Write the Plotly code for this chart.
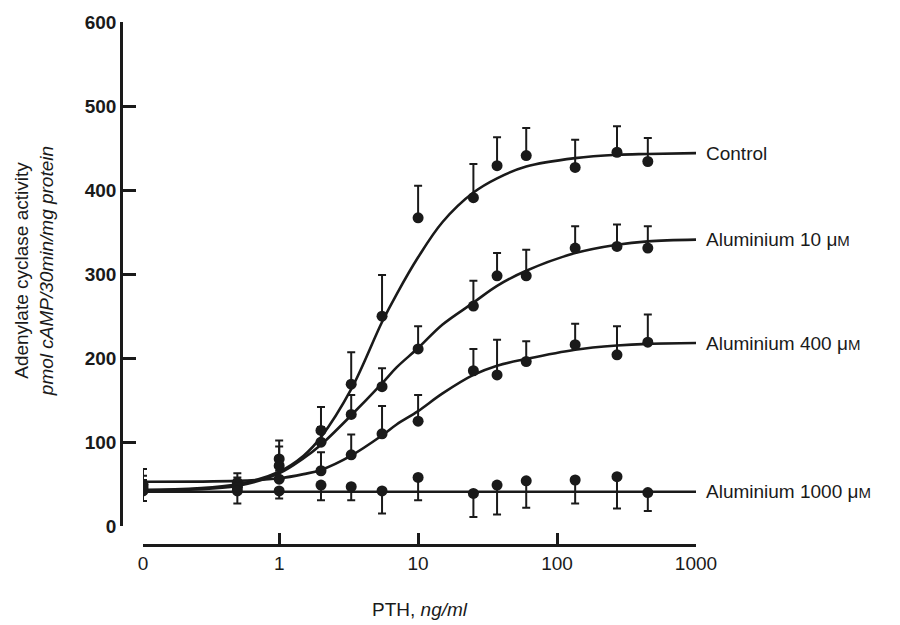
import math
import plotly.graph_objects as go

# ---- data ----
doses = [0, 0.5, 1, 2, 3.3, 5.5, 10, 25, 37, 60, 135, 270, 450]

control = [50, 52, 80, 114, 169, 250, 367, 391, 429, 441, 427, 445, 434]
control_hi = [68, 63, 102, 142, 207, 299, 405, 431, 463, 474, 460, 476, 462]

al10 = [47, 48, 72, 100, 133, 166, 211, 262, 298, 298, 331, 333, 331]
al10_hi = [60, 58, 95, 118, 156, 188, 238, 292, 325, 329, 357, 359, 357]

al400 = [44, 46, 56, 66, 85, 110, 125, 185, 180, 196, 216, 204, 219]
al400_hi = [55, 55, 66, 88, 109, 143, 156, 211, 222, 220, 241, 238, 252]

al1000 = [42, 42, 42, 49, 47, 42, 58, 39, 49, 54, 55, 59, 40]
al1000_lo = [30, 27, 33, 31, 31, 15, 31, 11, 14, 22, 27, 21, 18]

# fitted curves, read at these doses
fit_doses = [0, 0.5, 1, 1.5, 2, 3.3, 5.5, 7, 10, 15, 25, 37, 60, 135, 270, 450, 1000]
control_fit = [43, 50, 65, 84, 106, 163, 243, 276, 320, 362, 397, 414, 428, 438, 442, 443, 444]
al10_fit = [43, 48, 63, 81, 97, 132, 170, 189, 212, 240, 266, 286, 304, 325, 335, 339, 341]
al400_fit = [53, 54, 57, 62, 67, 84, 108, 121, 137, 158, 180, 191, 199, 210, 215, 217, 218]
al1000_fit = [41] * 17

curve_labels = ["Control", "Aluminium 10 μM", "Aluminium 400 μM", "Aluminium 1000 μM"]
label_levels = [443, 341, 217, 41]

tick_doses = [0, 1, 10, 100, 1000]
tick_text = ["0", "1", "10", "100", "1000"]
ZERO_POS = -0.98  # where the zero dose sits on the broken log axis


def pos(d):
    return math.log10(d) if d > 0 else ZERO_POS


def xs(ds):
    return [pos(d) for d in ds]


FONT = "Liberation Sans, Arial, Helvetica, sans-serif"
BLACK = "#1a1a1a"

fig = go.Figure()

# fitted lines
for fit in [control_fit, al10_fit, al400_fit, al1000_fit]:
    fig.add_trace(go.Scatter(
        x=xs(fit_doses), y=fit, mode="lines",
        line=dict(color=BLACK, width=2.6, shape="spline", smoothing=1.0),
        hoverinfo="skip", showlegend=False))

# points with one-sided error bars
for vals, hi in [(control, control_hi), (al10, al10_hi), (al400, al400_hi)]:
    fig.add_trace(go.Scatter(
        x=xs(doses), y=vals, mode="markers",
        marker=dict(color=BLACK, size=11),
        error_y=dict(type="data", symmetric=False,
                     array=[h - v for h, v in zip(hi, vals)],
                     arrayminus=[0] * len(vals),
                     color=BLACK, thickness=2, width=4),
        showlegend=False))

fig.add_trace(go.Scatter(
    x=xs(doses), y=al1000, mode="markers",
    marker=dict(color=BLACK, size=11),
    error_y=dict(type="data", symmetric=False,
                 array=[0] * len(al1000),
                 arrayminus=[v - lo for v, lo in zip(al1000, al1000_lo)],
                 color=BLACK, thickness=2, width=4),
    showlegend=False))

annotations = []
for txt, lvl in zip(curve_labels, label_levels):
    txt_html = txt.replace("μM", "μ<span style='font-size:15px'>M</span>")
    annotations.append(dict(x=3, y=lvl, xref="x", yref="y", text=txt_html,
                            showarrow=False, xanchor="left", yanchor="middle",
                            xshift=8, font=dict(family=FONT, size=19, color=BLACK)))

# axis titles
annotations.append(dict(x=(420 - 121) / 575, y=(545 - 610) / 529, xref="paper", yref="paper",
                        text="PTH, <i>ng/ml</i>", showarrow=False,
                        xanchor="center", yanchor="middle",
                        font=dict(family=FONT, size=19, color=BLACK)))
annotations.append(dict(x=(34 - 121) / 575, y=(545 - 268) / 529, xref="paper", yref="paper",
                        text="Adenylate cyclase activity<br><i>pmol cAMP/30min/mg protein</i>",
                        showarrow=False, textangle=-90,
                        xanchor="center", yanchor="middle",
                        font=dict(family=FONT, size=19, color=BLACK)))

fig.update_layout(
    width=900, height=625,
    margin=dict(l=121, r=204, t=16, b=80),
    paper_bgcolor="white", plot_bgcolor="white",
    font=dict(family=FONT, color=BLACK),
    xaxis=dict(domain=[(143 - 121) / 575, 1], range=[ZERO_POS, 3],
               anchor="free", position=0,
               showline=True, linecolor=BLACK, linewidth=2.5,
               ticks="inside", ticklen=11, tickwidth=2.5, tickcolor=BLACK,
               tickvals=xs(tick_doses), ticktext=tick_text,
               tickfont=dict(family=FONT, size=19, color=BLACK),
               showgrid=False, zeroline=False),
    yaxis=dict(domain=[(545 - 526) / 529, 1], range=[0, 600],
               anchor="free", position=0,
               showline=True, linecolor=BLACK, linewidth=2.5,
               ticks="inside", ticklen=13, tickwidth=2.5, tickcolor=BLACK,
               tickvals=[0, 100, 200, 300, 400, 500, 600],
               tickfont=dict(family=FONT, size=19, color=BLACK, weight="bold"),
               showgrid=False, zeroline=False),
    annotations=annotations,
)

fig.write_html("out.html", config={"displayModeBar": False},
               post_script="document.body.style.margin='0';")
